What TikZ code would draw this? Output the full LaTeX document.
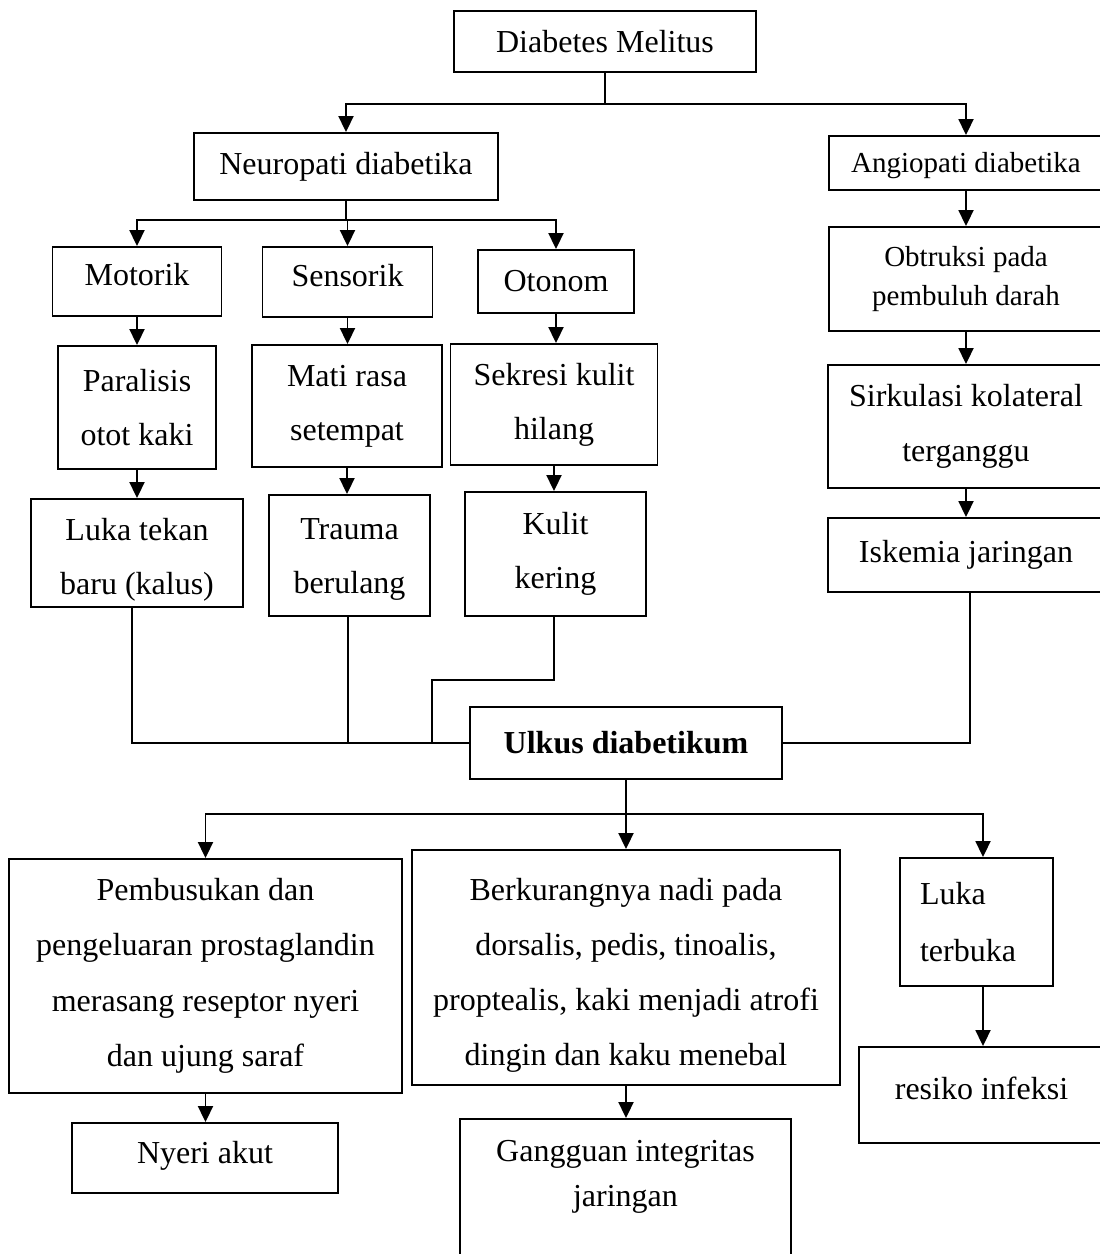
\documentclass[tikz,border=0pt]{standalone}
\usepackage{fontspec}
\setmainfont{Liberation Serif}
\usetikzlibrary{arrows.meta}
\begin{document}
\begin{tikzpicture}[x=1pt,y=-1pt,
  bx/.style={draw, line width=1.9pt, inner sep=0pt, align=center, font=\fontsize{32}{54}\selectfont},
  sm/.style={font=\fontsize{29}{39}\selectfont},
  arr/.style={line width=1.9pt, -{Triangle[width=15pt,length=16pt]}},
  ln/.style={line width=1.9pt}]
\clip (0,0) rectangle (1100,1254);
\fill[white] (0,0) rectangle (1100,1254);
% top
\node[bx, minimum width=302, minimum height=61] (dm) at (605,41.5) {Diabetes Melitus};
\node[bx, minimum width=304, minimum height=67] (neuro) at (346,166.5) {Neuropati diabetika};
\node[bx, sm, minimum width=274, minimum height=54] (angio) at (966,163) {\rule{0pt}{26pt}Angiopati diabetika};
% neuropathy branches
\node[bx, minimum width=169, minimum height=69] (mot) at (137,281.5) {\rule[-14pt]{0pt}{1pt}Motorik};
\node[bx, minimum width=170, minimum height=70] (sens) at (347.5,282) {\rule[-14pt]{0pt}{1pt}Sensorik};
\node[bx, minimum width=156, minimum height=63] (oton) at (556,281.5) {Otonom};
\node[bx, minimum width=158, minimum height=123] (para) at (137,407.5) {Paralisis\\otot kaki};
\node[bx, minimum width=190, minimum height=122] (mati) at (347,406) {Mati rasa\\setempat};
\node[bx, minimum width=207, minimum height=121] (sekr) at (554,404.5) {Sekresi kulit\\hilang};
\node[bx, minimum width=212, minimum height=108] (luka) at (137,553) {\rule{0pt}{35pt}Luka tekan\\baru (kalus)};
\node[bx, minimum width=161, minimum height=121] (trau) at (349.5,555.5) {\rule{0pt}{29pt}Trauma\\berulang};
\node[bx, minimum width=181, minimum height=124] (kuli) at (555.5,554) {Kulit\\kering};
% angiopathy branch
\node[bx, sm, minimum width=274, minimum height=104] (obtr) at (966,279) {Obtruksi pada\\pembuluh darah};
\node[bx, font=\fontsize{32}{55}\selectfont, minimum width=276, minimum height=123] (sirk) at (966,426.5) {Sirkulasi kolateral\\terganggu};
\node[bx, minimum width=276, minimum height=74] (isk) at (966,555) {Iskemia jaringan};
% center
\node[bx, minimum width=312, minimum height=72] (ulkus) at (626,743) {\textbf{Ulkus diabetikum}};
% bottom
\node[bx, font=\fontsize{32}{55.5}\selectfont, minimum width=393, minimum height=234] (pemb) at (205.5,976) {Pembusukan dan\\pengeluaran prostaglandin\\merasang reseptor nyeri\\dan ujung saraf};
\node[bx, minimum width=266, minimum height=70] (nyeri) at (205,1158) {\rule[-12pt]{0pt}{1pt}Nyeri akut};
\node[bx, font=\fontsize{32}{55}\selectfont, minimum width=428, minimum height=235] (berk) at (626,967.5) {\rule{0pt}{37pt}Berkurangnya nadi pada\\dorsalis, pedis, tinoalis,\\proptealis, kaki menjadi atrofi\\dingin dan kaku menebal};
\node[draw, line width=1.9pt, minimum width=331, minimum height=200] (gang) at (625.5,1219) {};
\node[font=\fontsize{32}{45}\selectfont, align=center, inner sep=0pt] (gangt) at (625.5,1177) {Gangguan integritas\\jaringan};
\node[bx, font=\fontsize{32}{57}\selectfont, align=left, text width=113, inner xsep=20, minimum height=128] (lter) at (976.5,922) {Luka\\terbuka};
\node[bx, minimum width=245, minimum height=96] (resi) at (981.5,1095) {\rule[-14pt]{0pt}{1pt}resiko infeksi};
% connectors top
\draw[arr] (dm.south) -- ++(0,31) -| (neuro.north);
\draw[arr] (dm.south) -- ++(0,31) -| (angio.north);
\draw[arr] (neuro.south) -- ++(0,19) -| (mot.north);
\draw[arr] (neuro.south) -- ++(0,19) -| (sens.north);
\draw[arr] (neuro.south) -- ++(0,19) -| (oton.north);
\draw[arr] (mot.south) -- (mot.south |- para.north);
\draw[arr] (sens.south) -- (sens.south |- mati.north);
\draw[arr] (oton.south) -- (oton.south |- sekr.north);
\draw[arr] (para.south) -- (para.south |- luka.north);
\draw[arr] (mati.south) -- (mati.south |- trau.north);
\draw[arr] (sekr.south) -- (sekr.south |- kuli.north);
\draw[arr] (angio.south) -- (obtr.north);
\draw[arr] (obtr.south) -- (sirk.north);
\draw[arr] (sirk.south) -- (isk.north);
% merge into ulkus
\coordinate (kj) at (432,743);
\draw[ln] ([xshift=-5]luka.south) |- (ulkus.west);
\draw[ln] ([xshift=-1.5]trau.south) -- ([xshift=-1.5]trau.south |- ulkus.west);
\draw[ln] ([xshift=-1.5]kuli.south) -- ++(0,63) -| (kj);
\draw[ln] ([xshift=4]isk.south) |- (ulkus.east);
% bottom connectors
\draw[arr] (ulkus.south) -- ++(0,34) -| (pemb.north);
\draw[arr] (ulkus.south) -- (berk.north);
\draw[arr] (ulkus.south) -- ++(0,34) -| ([xshift=6.5]lter.north);
\draw[arr] (pemb.south) -- (pemb.south |- nyeri.north);
\draw[arr] (berk.south) -- (berk.south |- gang.north);
\draw[arr] ([xshift=6.5]lter.south) -- ([xshift=6.5]lter.south |- resi.north);
\end{tikzpicture}
\end{document}
